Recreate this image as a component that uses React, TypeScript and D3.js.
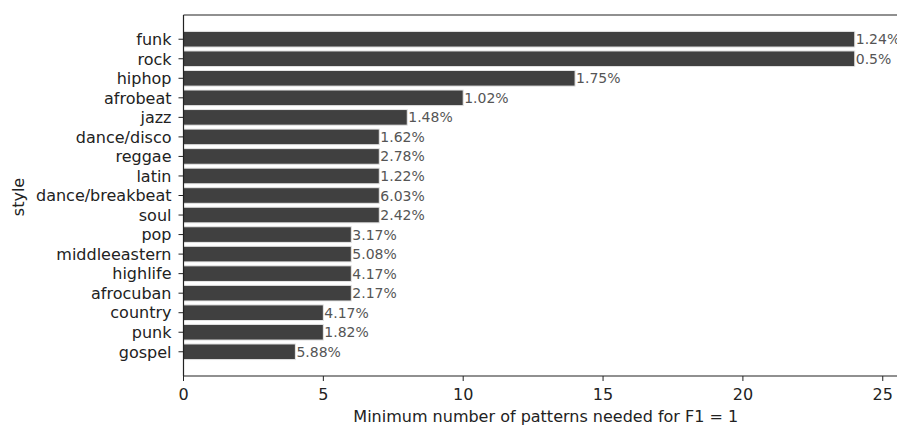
import React from "react";
import * as d3 from "d3";

const styles = [
  "funk", "rock", "hiphop", "afrobeat", "jazz", "dance/disco", "reggae", "latin",
  "dance/breakbeat", "soul", "pop", "middleeastern", "highlife", "afrocuban",
  "country", "punk", "gospel",
];
const patternsNeeded = [24, 24, 14, 10, 8, 7, 7, 7, 7, 7, 6, 6, 6, 6, 5, 5, 4];
const percentLabels = [
  "1.24%", "0.5%", "1.75%", "1.02%", "1.48%", "1.62%", "2.78%", "1.22%",
  "6.03%", "2.42%", "3.17%", "5.08%", "4.17%", "2.17%", "4.17%", "1.82%", "5.88%",
];
const xTicks = [0, 5, 10, 15, 20, 25];

const W = 897;
const H = 425;
const left = 183.5;
const top = 15;
const bottom = 376;
// plot area continues past the right edge of the canvas
const axisRight = 908;
const font = "'DejaVu Sans', sans-serif";

export default function App() {
  const x = d3.scaleLinear().domain([0, 25]).range([left, left + 25 * 27.97]);
  const n = styles.length;
  const y = d3.scaleLinear().domain([-1.24, n - 1 + 1.24]).range([top, bottom]);
  const step = y(1) - y(0);
  const barH = 0.8 * step;

  return (
    <svg
      width={W}
      height={H}
      style={{ position: "absolute", left: 0, top: 0, background: "#fff" }}
      fontFamily={font}
    >
      {styles.map((s, i) => (
        <g key={s}>
          <rect
            x={x(0)}
            y={y(i) - barH / 2}
            width={x(patternsNeeded[i]) - x(0)}
            height={barH}
            fill="#404040"
            stroke="#e6e6e6"
            strokeWidth={1}
          />
          <text
            x={x(patternsNeeded[i]) + 1}
            y={y(i)}
            dy="0.36em"
            fontSize={14}
            fill="#555"
          >
            {percentLabels[i]}
          </text>
          <line x1={left - 5} x2={left} y1={y(i)} y2={y(i)} stroke="#222" strokeWidth={1} />
          <text x={left - 12} y={y(i)} dy="0.36em" textAnchor="end" fontSize={16} fill="#222">
            {s}
          </text>
        </g>
      ))}
      {/* spines */}
      <line x1={left} x2={W} y1={top} y2={top} stroke="#222" strokeWidth={1.2} />
      <line x1={left} x2={W} y1={bottom} y2={bottom} stroke="#222" strokeWidth={1.2} />
      <line x1={left} x2={left} y1={top} y2={bottom} stroke="#222" strokeWidth={1.2} />
      {xTicks.map((t) => (
        <g key={t}>
          <line x1={x(t)} x2={x(t)} y1={bottom} y2={bottom + 5} stroke="#222" strokeWidth={1} />
          <text x={x(t)} y={bottom + 24} textAnchor="middle" fontSize={16} fill="#222">
            {t}
          </text>
        </g>
      ))}
      <text
        x={(left + axisRight) / 2}
        y={bottom + 46}
        textAnchor="middle"
        fontSize={16}
        fill="#222"
      >
        Minimum number of patterns needed for F1 = 1
      </text>
      <text
        transform={`translate(24,197) rotate(-90)`}
        textAnchor="middle"
        fontSize={16}
        fill="#222"
      >
        style
      </text>
    </svg>
  );
}
